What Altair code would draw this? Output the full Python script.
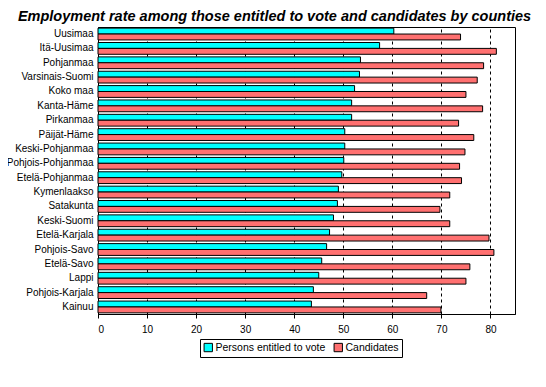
import altair as alt
import pandas as pd

counties = ["Uusimaa", "Itä-Uusimaa", "Pohjanmaa", "Varsinais-Suomi", "Koko maa",
            "Kanta-Häme", "Pirkanmaa", "Päijät-Häme", "Keski-Pohjanmaa", "Pohjois-Pohjanmaa",
            "Etelä-Pohjanmaa", "Kymenlaakso", "Satakunta", "Keski-Suomi", "Etelä-Karjala",
            "Pohjois-Savo", "Etelä-Savo", "Lappi", "Pohjois-Karjala", "Kainuu"]
voters = [60.3, 57.4, 53.5, 53.3, 52.3, 51.7, 51.7, 50.3, 50.3, 50.1,
          49.7, 49.0, 48.8, 48.0, 47.2, 46.6, 45.6, 45.0, 43.9, 43.5]
candidates = [73.9, 81.2, 78.6, 77.3, 75.0, 78.4, 73.5, 76.6, 74.8, 73.7,
              74.1, 71.7, 69.7, 71.7, 79.7, 80.7, 75.8, 75.0, 67.0, 69.9]
series = ["Persons entitled to vote", "Candidates"]
colors = ["#00FFFF", "#FF7070"]
ticks = [0, 10, 20, 30, 40, 50, 60, 70, 80]

rows = []
for c, v, k in zip(counties, voters, candidates):
    rows.append({"county": c, "series": series[0], "value": v})
    rows.append({"county": c, "series": series[1], "value": k})
df = pd.DataFrame(rows)

font = "Liberation Sans"

chart = alt.Chart(df).mark_bar(stroke="black", strokeWidth=1).encode(
    x=alt.X("value:Q", scale=alt.Scale(domain=[0, 85], nice=False),
            axis=alt.Axis(values=ticks, title=None, grid=True, gridDash=[3, 3],
                          gridColor="black", gridOpacity=1, tickColor="black",
                          tickSize=4, domainColor="black", labelPadding=6,
                          labelFontSize=10, labelColor="black", labelFont=font)),
    y=alt.Y("county:N", sort=counties,
            scale=alt.Scale(paddingInner=0.18, paddingOuter=0.08),
            axis=alt.Axis(title=None, ticks=False, domainColor="black",
                          labelFontSize=10, labelColor="black", labelFont=font,
                          labelPadding=5)),
    yOffset=alt.YOffset("series:N", sort=series,
                        scale=alt.Scale(paddingInner=0, paddingOuter=0)),
    color=alt.Color("series:N", sort=series,
                    scale=alt.Scale(domain=series, range=colors),
                    legend=alt.Legend(title=None, orient="none", legendX=102, legendY=312,
                                      direction="horizontal", symbolType="square",
                                      symbolSize=70, symbolStrokeColor="black",
                                      symbolStrokeWidth=1, labelFontSize=10.5,
                                      labelFont=font, labelColor="black",
                                      strokeColor="black", padding=3,
                                      columnPadding=6, labelOffset=2)),
).properties(
    width=417,
    height=287,
    title=alt.TitleParams(
        "Employment rate among those entitled to vote and candidates by counties",
        font=font, fontSize=14.5, fontWeight="bold", fontStyle="italic",
        color="black", anchor="middle", dx=-32, offset=3),
    padding={"left": 90, "top": 19, "right": 20, "bottom": 65},
    autosize=alt.AutoSizeParams(type="none"),
).configure_view(stroke="black", strokeWidth=1)

chart.save("out.html", embed_options={"renderer": "svg", "actions": False})
